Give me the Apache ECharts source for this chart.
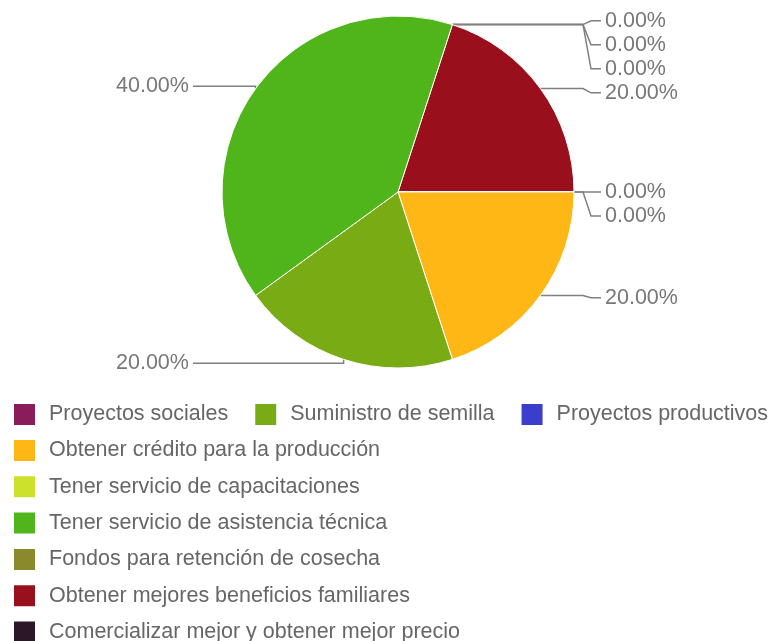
<!DOCTYPE html>
<html>
<head>
<meta charset="utf-8">
<script src="https://cdn.jsdelivr.net/npm/echarts@6/dist/echarts.min.js"></script>
<style>
html,body{margin:0;padding:0;background:#fff;}
#chart{width:778px;height:641px;}
</style>
</head>
<body>
<div id="chart"></div>
<script>
// Categories in legend order
const categories = [
  'Proyectos sociales',
  'Suministro de semilla',
  'Proyectos productivos',
  'Obtener crédito para la producción',
  'Tener servicio de capacitaciones',
  'Tener servicio de asistencia técnica',
  'Fondos para retención de cosecha',
  'Obtener mejores beneficios familiares',
  'Comercializar mejor y obtener mejor precio'
];
// Values (percent shares) per category, legend order
const values = [0, 20, 0, 20, 0, 40, 0, 20, 0];
// Slice colours per category, legend order
const colors = ['#8a1c5b', '#79ab14', '#3b3dcc', '#ffb716', '#cbe12b', '#50b41b', '#8a8a2c', '#990f1c', '#2c1729'];
// Clockwise drawing order of slices (indices into categories)
const sliceOrder = [0, 2, 4, 7, 6, 8, 3, 1, 5];

const pieData = sliceOrder.map(i => ({
  name: categories[i],
  value: values[i],
  itemStyle: { color: colors[i] }
}));

const chart = echarts.init(document.getElementById('chart'), null, { renderer: 'canvas' });
const FONT = '"Liberation Sans", Arial, Helvetica, sans-serif';

chart.setOption({
  animation: false,
  backgroundColor: '#fff',
  legend: [
    {
      orient: 'horizontal',
      left: 12, top: 402, padding: 0,
      itemWidth: 23, itemHeight: 23, itemGap: 25,
      icon: 'rect',
      selectedMode: false,
      data: categories.slice(0, 3),
      textStyle: { fontFamily: FONT, fontSize: 21.5, color: '#666', padding: [0, 0, 0, 8] }
    },
    {
      orient: 'vertical',
      left: 12, top: 438, height: 300, padding: 0,
      itemWidth: 23, itemHeight: 23, itemGap: 11.3,
      icon: 'rect',
      selectedMode: false,
      data: categories.slice(3),
      textStyle: { fontFamily: FONT, fontSize: 21.5, color: '#666', padding: [0, 0, 0, 8] }
    }
  ],
  series: [{
    type: 'pie',
    left: 116, top: 0, width: 565, height: 641,
    center: [282, 192],
    radius: 176,
    startAngle: 72,
    clockwise: true,
    avoidLabelOverlap: true,
    itemStyle: { borderColor: '#fff', borderWidth: 1 },
    label: {
      show: true,
      position: 'outside',
      alignTo: 'edge',
      edgeDistance: 0,
      distanceToLabelLine: 4,
      formatter: p => '{a|' + p.percent.toFixed(2) + '%}',
      rich: {
        a: { width: 76, align: 'left', fontFamily: FONT, fontSize: 21.5, color: '#777', lineHeight: 22 }
      },
      fontFamily: FONT, fontSize: 21.5, color: '#777', lineHeight: 22
    },
    labelLine: {
      show: true,
      length: 4,
      length2: 20,
      lineStyle: { color: '#808080', width: 1.5 }
    },
    labelLayout: function (params) {
      const pts = params.labelLinePoints;
      const r = params.labelRect;
      if (!pts || !r) return {};
      const p0 = pts[0];
      const ly = r.y + r.height / 2;
      const isRight = r.x + r.width / 2 > p0[0];
      if (isRight) {
        const endX = r.x - 4;
        return {
          labelLinePoints: [
            [p0[0], p0[1]],
            [endX - 18, p0[1]],
            [endX - 10, ly],
            [endX, ly]
          ]
        };
      }
      const endX = r.x + r.width + 1;
      return {
        labelLinePoints: [
          [p0[0], p0[1]],
          [p0[0], ly],
          [endX, ly]
        ]
      };
    },
    emphasis: { disabled: true },
    data: pieData
  }]
});
</script>
</body>
</html>
